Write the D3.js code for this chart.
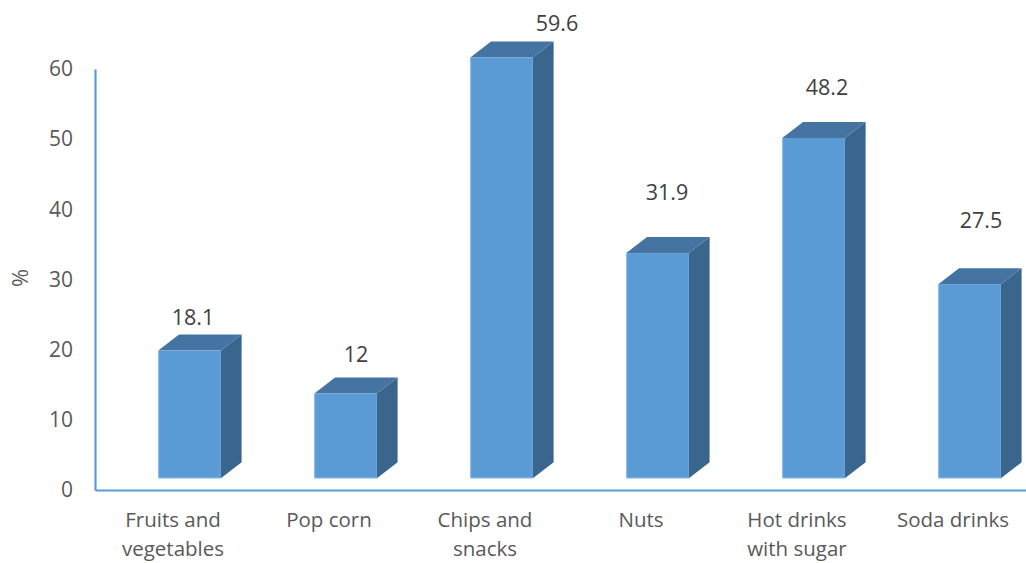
<!DOCTYPE html>
<html>
<head>
<meta charset="utf-8">
<script src="https://cdn.jsdelivr.net/npm/d3@7"></script>
<style>
  html, body { margin: 0; padding: 0; background: #ffffff; }
  svg { display: block; font-family: "Open Sans", "Noto Sans", sans-serif; }
</style>
</head>
<body>
<svg id="chart" width="1026" height="563"></svg>
<script>
// Snack consumption shares (%)
const categories = [
  ["Fruits and", "vegetables"],
  ["Pop corn"],
  ["Chips and", "snacks"],
  ["Nuts"],
  ["Hot drinks", "with sugar"],
  ["Soda drinks"]
];
const values = [18.1, 12, 59.6, 31.9, 48.2, 27.5];
const yTicks = [0, 10, 20, 30, 40, 50, 60];
const yTitle = "%";

// Hand placement of the value labels relative to each column top [dx, dy]
const labelNudge = [[-7, -18], [0, -24], [45, -19], [-1, -46], [3, -36], [1, -49]];

const W = 1026, H = 563;
const svg = d3.select("#chart");
const keys = categories.map(c => c.join(" "));

const axisColor = "#5b9bd5";
const textColor = "#595959";
const frontColor = "#5b9bd5";
const topColor = "#4574a3";
const sideColor = "#3a658d";

// Scales: category bands and the value axis on the back wall
const x = d3.scaleBand().domain(keys).range([95, 1031]).padding(0);
const y = d3.scaleLinear().domain([0, 60]).range([490, 69]);
// Front faces of the columns sit on the floor, slightly in front of the wall
const yFront = d3.scaleLinear().domain([0, 60]).range([478.3, 54.7]);

const barW = 62.6, depthX = 20.7, depthY = -16, frontOffset = 63.3;

// Y axis
const yAxis = svg.append("g")
  .attr("transform", "translate(95,0)")
  .call(d3.axisLeft(y).tickValues(yTicks).tickSize(0).tickPadding(22));
yAxis.select(".domain").attr("stroke", axisColor).attr("stroke-width", 2.2);
yAxis.selectAll("text")
  .attr("fill", textColor)
  .style("font-size", "21px")
  .style("font-family", "'Open Sans', sans-serif");

// X axis
const xAxis = svg.append("g")
  .attr("transform", "translate(0,490)")
  .call(d3.axisBottom(x).tickSize(0).tickFormat(""));
xAxis.select(".domain").attr("stroke", axisColor).attr("stroke-width", 2.2);

// Category labels (multi-line)
const catLabels = svg.append("g");
categories.forEach((lines, i) => {
  const t = catLabels.append("text")
    .attr("x", x(keys[i]) + x.bandwidth() / 2)
    .attr("y", 527)
    .attr("text-anchor", "middle")
    .attr("fill", textColor)
    .style("font-size", "20.5px");
  lines.forEach((ln, j) => {
    t.append("tspan")
      .attr("x", x(keys[i]) + x.bandwidth() / 2)
      .attr("dy", j === 0 ? 0 : 29)
      .text(ln);
  });
});

// Y title
svg.append("text")
  .attr("transform", "translate(28,278) rotate(-90)")
  .attr("text-anchor", "middle")
  .attr("fill", textColor)
  .style("font-size", "22px")
  .text(yTitle);

// 3D columns
const bars = svg.append("g");
values.forEach((v, i) => {
  const x0 = x(keys[i]) + frontOffset;
  const x1 = x0 + barW;
  const yt = yFront(v);
  const yb = yFront(0);
  const g = bars.append("g");
  // side face
  g.append("path")
    .attr("d", `M${x1},${yt} L${x1 + depthX},${yt + depthY} L${x1 + depthX},${yb + depthY} L${x1},${yb} Z`)
    .attr("fill", sideColor);
  // top face
  g.append("path")
    .attr("d", `M${x0},${yt} L${x0 + depthX},${yt + depthY} L${x1 + depthX},${yt + depthY} L${x1},${yt} Z`)
    .attr("fill", topColor);
  // front face
  g.append("rect")
    .attr("x", x0).attr("y", yt)
    .attr("width", barW).attr("height", yb - yt)
    .attr("fill", frontColor);
  // faint highlight along the front edges
  g.append("path")
    .attr("d", `M${x0 + 0.5},${yt} L${x0 + 0.5},${yb - 0.5} L${x1},${yb - 0.5}`)
    .attr("fill", "none")
    .attr("stroke", "#8dbbe6")
    .attr("stroke-width", 1)
    .attr("opacity", 0.7);

  // value label
  const n = labelNudge[i];
  svg.append("text")
    .attr("x", x0 + (barW + depthX) / 2 + n[0])
    .attr("y", yt + depthY + n[1])
    .attr("text-anchor", "middle")
    .attr("dominant-baseline", "central")
    .attr("fill", "#404040")
    .style("font-size", "21.5px")
    .text(v);
});
</script>
</body>
</html>
